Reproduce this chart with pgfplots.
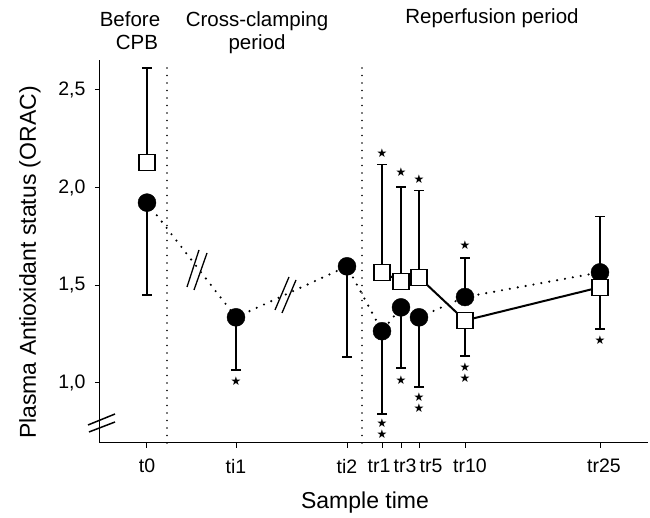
\documentclass[border=0pt]{standalone}
\usepackage{pgfplots}
\pgfplotsset{compat=1.18}
\usepackage{pgfplotstable}
\usepackage{fontspec}
\setmainfont{Liberation Sans}
\newfontfamily\djv{DejaVu Sans}

% circles: x y err+ err-
\pgfplotstableread{
x y ep em
147 1.923 0 0.473
236 1.336 0 0.269
347 1.597 0 0.464
382 1.265 0 0.425
401 1.387 0 0.310
419 1.336 0 0.356
465 1.440 0.198 0
600 1.566 0.286 0
}\circles
% squares
\pgfplotstableread{
x y ep em
147 2.128 0.482 0
382 1.566 0.552 0
401 1.520 0.485 0
419 1.541 0.444 0
465 1.320 0 0.182
600 1.490 0 0.215
}\squares
% significance stars
\pgfplotstableread{
x y
236 1.010
382 2.176
382 0.7954
382 0.7391
401 2.077
401 1.015
419 2.043
419 0.9284
419 0.8721
465 1.703
465 1.0820
465 1.0257
600 1.219
}\stars

\begin{document}
\begin{tikzpicture}
\begin{axis}[
  scale only axis,
  width=548pt, height=383pt,
  xmin=100, xmax=648,
  ymin=0.693, ymax=2.653,
  axis x line*=bottom, axis y line*=left,
  axis line style={-, line width=1pt, black},
  tick align=outside,
  major tick length=5pt,
  tick style={line width=1pt, black},
  xtick={147,236,347,382,401,419,465,600},
  xticklabels={t0,ti1,ti2,tr1\hspace*{6pt},\hspace*{8pt}tr3,\hspace*{24pt}tr5,\hspace*{10pt}tr10,\hspace*{8pt}tr25},
  ytick={1.0,1.5,2.0,2.5},
  yticklabels={{1,0},{1,5},{2,0},{2,5}},
  /pgf/number format/assume math mode=true,
  ticklabel style={font=\fontsize{19.5}{22}\selectfont},
  xticklabel style={yshift=-10pt, inner sep=1pt},
  yticklabel style={xshift=-6pt},
  xlabel={Sample time},
  ylabel={Plasma Antioxidant status (ORAC)},
  label style={font=\fontsize{23}{26}\selectfont},
  xlabel style={at={(rel axis cs:0.4836,-0.1723)}, anchor=base},
  ylabel style={at={(rel axis cs:-0.1277,0.471)}, anchor=center},
  clip=false,
]
% bounding frame matching the reference proportions
\path (axis cs:0,0.3297) rectangle (axis cs:650,2.960);

% period separators
\addplot[black, line width=1.8pt, line cap=round, dash pattern=on 0pt off 7.5pt, mark=none]
  coordinates {(167,0.693) (167,2.643)};
\addplot[black, line width=1.8pt, line cap=round, dash pattern=on 0pt off 7.5pt, mark=none]
  coordinates {(362,0.693) (362,2.643)};

% connecting lines
\addplot[black, line width=2.4pt, line cap=round, dash pattern=on 0pt off 8pt, mark=none]
  table[x=x,y=y]{\circles};
\addplot[black, line width=2pt, mark=none]
  coordinates {(382,1.566) (401,1.520) (419,1.541) (465,1.320) (600,1.490)};

% error bars
\addplot[draw=none, mark=none,
  error bars/.cd, y dir=both, y explicit,
  error bar style={line width=1.8pt, black},
  error mark options={rotate=90, mark size=5pt, line width=1.8pt, black}]
  table[x=x, y=y, y error plus=ep, y error minus=em]{\circles};
\addplot[draw=none, mark=none,
  error bars/.cd, y dir=both, y explicit,
  error bar style={line width=1.8pt, black},
  error mark options={rotate=90, mark size=5pt, line width=1.8pt, black}]
  table[x=x, y=y, y error plus=ep, y error minus=em]{\squares};

% markers
\addplot[only marks, mark=*, mark size=9pt, mark options={fill=black, draw=black}]
  table[x=x,y=y]{\circles};
\addplot[only marks, mark=square*, mark size=8pt, mark options={fill=white, draw=black, line width=1.2pt}]
  table[x=x,y=y]{\squares};

% stars
\addplot[only marks, mark=text, text mark={★}, text mark as node=true,
  text mark style={font=\djv\fontsize{12}{12}\selectfont, inner sep=0pt}]
  table[x=x,y=y]{\stars};

% axis break marks
\draw[line width=1.5pt] (axis cs:88,0.7851) -- (axis cs:115,0.8414);
\draw[line width=1.5pt] (axis cs:89,0.7493) -- (axis cs:115,0.8005);
\draw[line width=1.3pt] (axis cs:187,1.4913) -- (axis cs:199,1.6807);
\draw[line width=1.3pt] (axis cs:194,1.4760) -- (axis cs:207,1.6653);
\draw[line width=1.3pt] (axis cs:275,1.3736) -- (axis cs:289,1.5425);
\draw[line width=1.3pt] (axis cs:282,1.3583) -- (axis cs:296,1.5271);

% period headers
\node[anchor=base, font=\fontsize{20.5}{22}\selectfont] at (axis cs:130,2.822) {Before};
\node[anchor=base, font=\fontsize{20.5}{22}\selectfont] at (axis cs:137,2.709) {CPB};
\node[anchor=base, font=\fontsize{20.5}{22}\selectfont] at (axis cs:257,2.822) {Cross-clamping};
\node[anchor=base, font=\fontsize{20.5}{22}\selectfont] at (axis cs:257,2.709) {period};
\node[anchor=base, font=\fontsize{20.5}{22}\selectfont] at (axis cs:492,2.842) {Reperfusion period};
\end{axis}
\end{tikzpicture}
\end{document}
